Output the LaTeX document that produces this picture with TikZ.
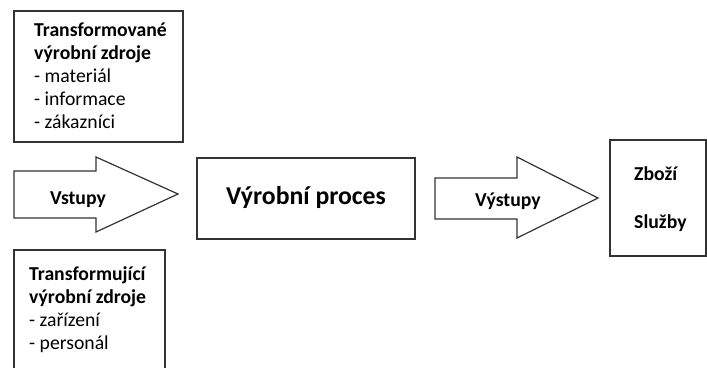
\documentclass[tikz,border=0pt]{standalone}
\usepackage{fontspec}
\setmainfont{Carlito}
\begin{document}
\begin{tikzpicture}[x=1pt,y=-1pt,
  frame/.style={draw=black!80,line width=1.2pt},
  txt/.style={anchor=base west,inner sep=0pt,font=\fontsize{19.7}{23}\selectfont},
  btxt/.style={txt,font=\fontsize{19.7}{23}\selectfont\bfseries},
  bigtxt/.style={anchor=base,inner sep=0pt,font=\fontsize{25.7}{30}\selectfont\bfseries}]
\useasboundingbox (0,0) rectangle (707,367);

% input resources box (transformed)
\draw[frame] (14,11) rectangle (183,142);
\node[btxt] (t1) at (34,36) {Transformované};
\node[btxt] (t2) at (34,59) {výrobní zdroje};
\node[txt]  (t3) at (34,82) {- materiál};
\node[txt]  (t4) at (34,105) {- informace};
\node[txt]  (t5) at (34,128) {- zákazníci};

% input arrow
\draw[frame,line join=miter] (14,171) -- (96,171) -- (96,157) -- (178,194)
  -- (96,232) -- (96,218) -- (14,218) -- cycle;
\node[btxt] (vst) at (50,204) {Vstupy};

% transforming resources box (runs off the bottom edge)
\draw[frame] (165,372) -- (165,250) -- (14,250) -- (14,372);
\node[btxt] (b1) at (29,280) {Transformující};
\node[btxt] (b2) at (29,303) {výrobní zdroje};
\node[txt]  (b3) at (29,326) {- zařízení};
\node[txt]  (b4) at (29,349) {- personál};

% process box
\node[frame,minimum width=218pt,minimum height=81pt,inner sep=0pt] (proc) at (306,198.5) {};
\node[bigtxt] (proct) at (306,204) {Výrobní proces};

% output arrow
\draw[frame,line join=miter] (435,178) -- (517,178) -- (517,157) -- (598,198)
  -- (517,238) -- (517,219) -- (435,219) -- cycle;
\node[btxt] (vys) at (475,206) {Výstupy};

% outputs box
\draw[frame] (610,140) rectangle (706,256);
\node[btxt] (z1) at (634,180) {Zboží};
\node[btxt] (z2) at (634,228) {Služby};
\end{tikzpicture}
\end{document}
